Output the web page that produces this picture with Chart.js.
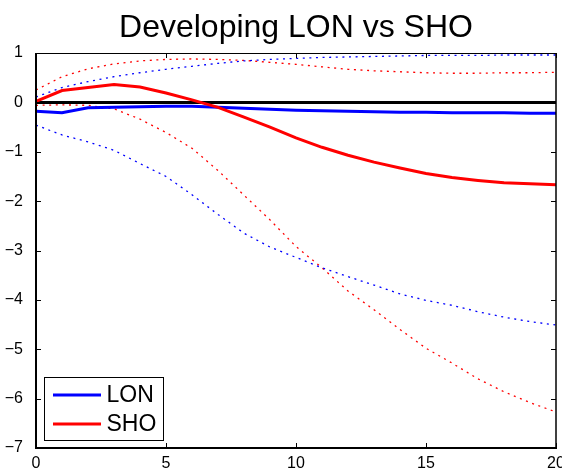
<!DOCTYPE html>
<html><head><meta charset="utf-8">
<script src="https://cdn.jsdelivr.net/npm/chart.js@4/dist/chart.umd.min.js"></script>
<style>html,body{margin:0;padding:0;background:#fff}</style>
</head><body>
<canvas id="c" width="562" height="471"></canvas>
<script>
const horizons = [0,1,2,3,4,5,6,7,8,9,10,11,12,13,14,15,16,17,18,19,20];
const lonMean  = [-0.18,-0.21,-0.11,-0.10,-0.09,-0.08,-0.08,-0.10,-0.12,-0.14,-0.16,-0.17,-0.18,-0.19,-0.20,-0.20,-0.21,-0.21,-0.21,-0.22,-0.22];
const shoMean  = [0.02,0.24,0.30,0.36,0.31,0.19,0.05,-0.10,-0.30,-0.50,-0.72,-0.91,-1.07,-1.21,-1.33,-1.44,-1.52,-1.58,-1.63,-1.65,-1.67];
const lonUpper = [0.11,0.30,0.42,0.52,0.60,0.67,0.73,0.79,0.84,0.87,0.89,0.91,0.92,0.93,0.94,0.95,0.95,0.95,0.96,0.96,0.96];
const lonLower = [-0.46,-0.66,-0.80,-0.97,-1.24,-1.50,-1.87,-2.27,-2.65,-2.93,-3.14,-3.35,-3.53,-3.70,-3.88,-4.01,-4.11,-4.24,-4.35,-4.44,-4.51];
const shoUpper = [0.25,0.52,0.68,0.78,0.84,0.87,0.88,0.87,0.85,0.81,0.77,0.72,0.67,0.64,0.62,0.60,0.59,0.59,0.60,0.60,0.61];
const shoLower = [-0.06,-0.05,-0.06,-0.13,-0.34,-0.61,-0.93,-1.38,-1.88,-2.38,-2.92,-3.35,-3.82,-4.20,-4.60,-4.98,-5.28,-5.60,-5.86,-6.08,-6.27];
const zeroLine = [0,0,0,0,0,0,0,0,0,0,0,0,0,0,0,0,0,0,0,0,0];
const xTicks = [0,5,10,15,20];
const yTicks = [-7,-6,-5,-4,-3,-2,-1,0,1];
const legendLabels = ['LON','SHO'];
const titleText = 'Developing LON vs SHO';

const FONT = "'Liberation Sans', Arial, Helvetica, sans-serif";
const BLUE = 'rgb(0,0,255)', RED = 'rgb(255,0,0)';
const pts = arr => horizons.map((h,i)=>({x:h,y:arr[i]}));

const titlePlugin = {
  id:'axTitle',
  afterDraw(chart){
    const {ctx, chartArea:a} = chart;
    ctx.save();
    ctx.fillStyle = '#000';
    ctx.font = '32px ' + FONT;
    ctx.textAlign = 'center';
    ctx.textBaseline = 'alphabetic';
    ctx.fillText(titleText, (a.left + a.right)/2, 37);
    ctx.restore();
  }
};

const frame = {
  id:'frame',
  afterDatasetsDraw(chart){
    const {ctx, chartArea:a, scales:{x,y}} = chart;
    ctx.save();
    ctx.strokeStyle = '#000';
    ctx.lineWidth = 1;
    ctx.beginPath();
    xTicks.forEach(v=>{
      const px = Math.round(x.getPixelForValue(v))+0.5;
      ctx.moveTo(px,a.bottom); ctx.lineTo(px,a.bottom-5);
      ctx.moveTo(px,a.top); ctx.lineTo(px,a.top+5);
    });
    yTicks.forEach(v=>{
      const py = Math.round(y.getPixelForValue(v))+0.5;
      ctx.moveTo(a.left,py); ctx.lineTo(a.left+5,py);
      ctx.moveTo(a.right,py); ctx.lineTo(a.right-5,py);
    });
    ctx.stroke();
    ctx.lineWidth = 1;
    ctx.beginPath();
    ctx.moveTo(a.left, a.top+0.5); ctx.lineTo(a.right, a.top+0.5);
    ctx.stroke();
    ctx.lineWidth = 1.5;
    ctx.beginPath();
    ctx.moveTo(a.right, a.top); ctx.lineTo(a.right, a.bottom);
    ctx.stroke();
    ctx.lineWidth = 2;
    ctx.beginPath();
    ctx.moveTo(a.left, a.top); ctx.lineTo(a.left, a.bottom+1);
    ctx.moveTo(a.left-1, a.bottom); ctx.lineTo(a.right+1, a.bottom);
    ctx.stroke();
    ctx.restore();
  }
};

const boxLegend = {
  id:'boxLegend',
  afterDraw(chart){
    const {ctx, chartArea:a} = chart;
    const ds = legendLabels.map(l => chart.data.datasets.find(d => d.label === l));
    const bx = a.left+8.5, by = 377.5, bw = 119, bh = 63;
    ctx.save();
    ctx.fillStyle = '#fff';
    ctx.fillRect(bx,by,bw,bh);
    ctx.strokeStyle = '#000';
    ctx.lineWidth = 1;
    ctx.strokeRect(bx,by,bw,bh);
    ds.forEach((d,i)=>{
      const yy = 395 + i*29;
      ctx.strokeStyle = d.borderColor;
      ctx.lineWidth = 3;
      ctx.beginPath();
      ctx.moveTo(bx+8.5, yy); ctx.lineTo(bx+56.5, yy);
      ctx.stroke();
      ctx.fillStyle = '#000';
      ctx.font = '23px ' + FONT;
      ctx.textBaseline = 'middle';
      ctx.textAlign = 'left';
      ctx.fillText(d.label, bx+62, yy+1);
    });
    ctx.restore();
  }
};

const DOT = [2,4.6];
new Chart(document.getElementById('c'), {
  type:'line',
  data:{
    datasets:[
      {label:legendLabels[1], data:pts(shoMean), borderColor:RED, borderWidth:3, order:0},
      {label:legendLabels[0], data:pts(lonMean), borderColor:BLUE, borderWidth:3, order:1},
      {label:'LON upper', data:pts(lonUpper), borderColor:BLUE, borderWidth:1.3, borderDash:DOT, order:2},
      {label:'LON lower', data:pts(lonLower), borderColor:BLUE, borderWidth:1.3, borderDash:DOT, order:3},
      {label:'SHO upper', data:pts(shoUpper), borderColor:RED, borderWidth:1.3, borderDash:DOT, order:4},
      {label:'SHO lower', data:pts(shoLower), borderColor:RED, borderWidth:1.3, borderDash:DOT, order:5},
      {label:'zero', data:pts(zeroLine), borderColor:'#000', borderWidth:3, order:6}
    ].map(d=>Object.assign({pointRadius:0, tension:0, fill:false, borderCapStyle:'butt'}, d))
  },
  options:{
    responsive:false,
    animation:false,
    devicePixelRatio:1,
    layout:{padding:{left:0,right:6,top:53,bottom:0}},
    plugins:{
      legend:{display:false},
      tooltip:{enabled:false},
      title:{display:false}
    },
    scales:{
      x:{type:'linear', min:0, max:20,
        grid:{display:false}, border:{display:false},
        afterBuildTicks: s => { s.ticks = xTicks.map(v=>({value:v})); },
        afterFit: s => { s.height = 23; s.paddingLeft = 0; s.paddingRight = 0; },
        ticks:{color:'#000', font:{family:FONT, size:16, lineHeight:1}, padding:0, maxRotation:0, autoSkip:false,
          callback: v => v < 0 ? '\u2212' + Math.abs(v) : String(v)}
      },
      y:{type:'linear', min:-7, max:1,
        grid:{display:false}, border:{display:false},
        afterBuildTicks: s => { s.ticks = yTicks.map(v=>({value:v})); },
        afterFit: s => { s.width = 36; s.paddingTop = 0; s.paddingBottom = 0; },
        ticks:{color:'#000', font:{family:FONT, size:16}, padding:5, autoSkip:false,
          callback: v => v < 0 ? '\u2212' + Math.abs(v) : String(v)}
      }
    }
  },
  plugins:[frame, boxLegend, titlePlugin]
});
</script>
</body></html>
